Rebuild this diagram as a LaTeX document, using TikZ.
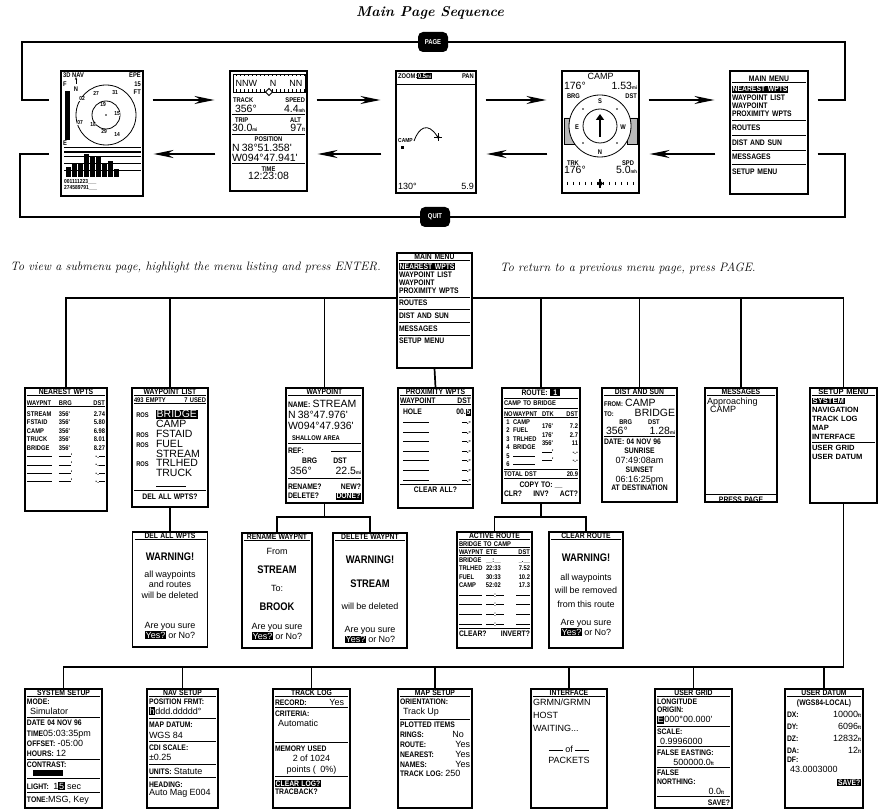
\documentclass[tikz,border=0pt]{standalone}
\usepackage{fontspec}
\usetikzlibrary{arrows.meta}
\newfontfamily\lcdfont{Liberation Sans}
\newfontfamily\lcdbold[FakeStretch=0.85]{Liberation Sans}
% screen fonts
\newcommand\tsmall{\lcdbold\bfseries\fontsize{8}{8.2}\selectfont}
\newcommand\txs{\lcdbold\bfseries\fontsize{6.8}{8.4}\selectfont}
\newcommand\twide{\lcdfont\bfseries\fontsize{7.6}{9}\selectfont}
\newcommand\tmini{\lcdbold\bfseries\fontsize{5.8}{6.4}\selectfont}
\newcommand\tmed{\lcdfont\mdseries\fontsize{9}{10.2}\selectfont}
\newcommand\tlarge{\lcdfont\mdseries\fontsize{10.5}{9.8}\selectfont}
\newcommand\tbig{\lcdbold\bfseries\fontsize{11}{12}\selectfont}
\newcommand\tunit[1]{{\lcdbold\bfseries\fontsize{5}{5}\selectfont#1}}
\newcommand\tinv[1]{{\setlength\fboxsep{0.7pt}\colorbox{black}{\color{white}#1}}}
\newcommand\tsep{\par\vspace{2pt}\hrule height 1pt\vspace{2pt}}
\newcommand\tuline{\par\vspace{0.6pt}\hrule height 0.7pt\vspace{1.8pt}}
\newcommand\tgap[1]{\par\vspace{#1}}
\newcommand\tcen[1]{\makebox[\linewidth]{#1}}
\newcommand\tcol[2]{\makebox[#1][l]{#2}}
\newcommand\tdash[1]{\rule[1.6pt]{#1}{0.8pt}}
\begin{document}
\begin{tikzpicture}[x=1pt,y=-1pt]
\tikzstyle{screen}=[draw, line width=1.1pt, fill=white, inner sep=0pt]
\tikzstyle{scrtext}=[anchor=north, inner sep=1.5pt, font=\txs]
\tikzstyle{lbl}=[inner sep=0pt, font=\txs]
\tikzstyle{btn}=[fill=black, text=white, rounded corners=5pt, minimum width=30pt, minimum height=20pt, inner sep=0pt, font=\lcdbold\bfseries\fontsize{7}{7}\selectfont]
\tikzstyle{loopline}=[draw, line width=1.7pt]
\tikzstyle{tree}=[draw, line width=1.7pt]
\tikzstyle{fwd}=[draw, line width=1.7pt, -{Stealth[length=20pt,width=8pt]}, shorten <=9pt, shorten >=15pt]
\tikzstyle{back}=[draw, line width=1.7pt, -{Stealth[length=20pt,width=8pt]}, shorten <=14pt, shorten >=10pt]
\tikzstyle{title}=[font=\bfseries\itshape\fontsize{14.2}{16}\selectfont]
\tikzstyle{note}=[font=\itshape\fontsize{12.2}{14}\selectfont, inner sep=0pt]

\useasboundingbox (0,0) rectangle (889,810);

% Title and notes
\node[title] (title) at (430,13) {Main Page Sequence};
\node[note, anchor=east] (noteview) at (381,268) {To view a submenu page, highlight the menu listing and press ENTER.};
\node[note, anchor=west] (notereturn) at (500,268) {To return to a previous menu page, press PAGE.};

% Helper levels
\coordinate (fy) at (0,100);
\coordinate (by) at (0,154);
\coordinate (tl) at (22,42);
\coordinate (tr) at (845,42);
\coordinate (bl) at (20,217);
\coordinate (br) at (845,217);
\coordinate (t1) at (0,298);
\coordinate (t2) at (0,517);
\coordinate (t4) at (0,667);

% Buttons
\node[btn] (pagebtn) at (433,42) {PAGE};
\node[btn] (quitbtn) at (435,217) {QUIT};

% Satellite page
\node[screen, minimum width=82pt, minimum height=125pt] (sat) at (102,133.5) {};
\node[lbl, anchor=north west] (satmode) at (63,73) {3D NAV};
\node[lbl, anchor=north east, align=right] (satepe) at (141,73) {EPE\\15\\FT};
\node[lbl, anchor=north west] (satf) at (63,82) {F};
\node[lbl, anchor=north west] (sate) at (63,141) {E};
\fill (64.5,91) rectangle (70,140);
\node[lbl] (satn) at (76,89) {N};
\draw[-{Stealth[length=3pt]}, line width=0.8pt] (76,84) -- (76,77);
\draw[line width=0.8pt] (106,115) circle[radius=30pt] (106,115) circle[radius=14pt];
\fill (106,115) circle[radius=0.8pt];
\foreach \px/\py/\sv in {82/99/02, 96/93/27, 115/93/31, 103/105/19, 117/114/15, 80/123/07, 93/125/18, 104/132/29, 117/135/14}
  \node[lbl, font=\tmini, fill=white, inner sep=0.3pt] at (\px,\py) {\sv};
\foreach \ly in {147,156,163,170} \draw[line width=0.8pt] (64,\ly) -- (141,\ly);
\draw[line width=1.3pt] (64,152) -- (141,152);
\foreach \i/\h in {0/167,1/163,2/163,3/154,4/157,5/157,6/163,7/161,8/169}
  \fill ({66+\i*6},\h) rectangle ({71+\i*6},177);
\node[lbl, font=\tmini, anchor=north west, align=left] (satprn) at (64,179) {001111223\_\_\_\\274589791\_\_\_};

% Position page
\node[screen, minimum width=77pt, minimum height=120pt] (pos) at (268.5,131) {};
\draw[line width=0.8pt] (233,74) rectangle (305,92);
\foreach \x in {236,240,...,304} \draw[line width=0.5pt] (\x,74) -- (\x,76.5) (\x,92) -- (\x,89.5);
\node[lbl, font=\tmed] (postape) at (269,83) {NNW\hspace{13pt}N\hspace{13pt}NN};
\draw[line width=0.8pt, fill=white] (269,88.5) -- (272.5,92) -- (269,95.5) -- (265.5,92) -- cycle;
\node[scrtext, text width=73pt] (postxt) at (268.5,96) {%
\txs\hspace*{1pt}TRACK\hfill SPEED\par
\tlarge\hspace*{3pt}356°\hfill 4.4\tunit{mh}\tsep
\txs\hspace*{3pt}TRIP\hfill ALT\hspace*{4pt}\par
\tlarge 30.0\tunit{mi}\hfill 97\tunit{ft}\tsep
\txs\tcen{POSITION}\par
\tlarge N\ 38°51.358'\par
W094°47.941'\tsep
\txs\tcen{TIME}\par
\tlarge\tcen{12:23:08}};

% Map page
\node[screen, minimum width=80pt, minimum height=122pt] (map) at (436,132) {};
\node[lbl, anchor=north west] (mapzoom) at (398,73) {ZOOM:\tinv{0.5\tunit{mi}}};
\node[lbl, anchor=north east] (mappan) at (474,74) {PAN};
\draw[line width=0.8pt] (396,84) -- (476,84);
\draw[line width=0.8pt] (414,141) .. controls (419,127) and (428,122) .. (437,136);
\fill (438,137) circle[radius=1.6pt];
\draw[line width=0.7pt] (434,137) -- (442,137) (438,133) -- (438,141);
\node[lbl, font=\tmini, anchor=west] (mapcamp) at (398,141) {CAMP};
\fill (401,146) rectangle (404,149);
\node[lbl, font=\tmed, anchor=south west] (maphdg) at (398,190) {130°};
\node[lbl, font=\tmed, anchor=south east] (mapdst) at (474,190) {5.9};

% Compass page
\node[screen, minimum width=77pt, minimum height=122pt] (comp) at (600.5,132) {};
\node[scrtext, text width=73pt] (comptop) at (600.5,72) {%
\tmed\tcen{CAMP}\par
\tlarge 176°\hfill 1.53\tunit{mi}\par
\txs\hspace*{3pt}BRG\hfill DST\hspace*{3pt}};
\draw[line width=0.8pt, fill=gray!55] (564,118) rectangle (574,144) (627,118) rectangle (637,144);
\draw[line width=0.8pt, fill=white] (600,126) circle[radius=31pt];
\draw[line width=0.8pt] (600,126) circle[radius=17pt];
\node[lbl] (comps) at (600,101) {S};
\node[lbl] (compn) at (600,152) {N};
\node[lbl] (compe) at (577,127) {E};
\node[lbl] (compw) at (623,127) {W};
\foreach \ang in {45,135,225,315} \fill ({600+24*cos(\ang)},{126+24*sin(\ang)}) circle[radius=0.9pt];
\draw[line width=2.6pt, -{Triangle[length=6pt,width=8pt]}] (600,137) -- (600,114);
\node[scrtext, text width=73pt] (compbot) at (600.5,159) {%
\txs\hspace*{3pt}TRK\hfill SPD\hspace*{3pt}\par
\tlarge 176°\hfill 5.0\tunit{mh}};
\foreach \x in {567,573,...,634} \draw[line width=0.6pt] (\x,182) -- (\x,185);
\draw[line width=1.2pt] (600,179) -- (600,188);
\fill (600,180.5) -- (603,183.5) -- (600,186.5) -- (597,183.5) -- cycle;

% Main menu (page sequence)
\node[screen, minimum width=78pt, minimum height=123pt] (mainmenu) at (769,132.5) {};
\node[scrtext, text width=74pt, font=\tsmall] (mainmenutxt) at (mainmenu.north) {%
\tgap{1pt}\tcen{MAIN MENU}\tuline
\tgap{1pt}\tinv{NEAREST WPTS}\par
WAYPOINT LIST\par
WAYPOINT\par
PROXIMITY WPTS\tgap{2pt}\tsep
\tgap{1.5pt}ROUTES\tgap{2.5pt}\tsep
\tgap{1.5pt}DIST AND SUN\tgap{2.5pt}\tsep
\tgap{1.5pt}MESSAGES\tgap{2.5pt}\tsep
\tgap{1.5pt}SETUP MENU};

% Main menu (submenu tree)
\node[screen, minimum width=75pt, minimum height=115pt] (submenu) at (434.5,310.5) {};
\node[scrtext, text width=71pt, font=\tsmall] (submenutxt) at (submenu.north) {%
\tcen{MAIN MENU}\tuline
\tinv{NEAREST WPTS}\par
WAYPOINT LIST\par
WAYPOINT\par
PROXIMITY WPTS\tgap{1pt}\tsep
\tgap{0.5pt}ROUTES\tgap{1.5pt}\tsep
\tgap{0.5pt}DIST AND SUN\tgap{1.5pt}\tsep
\tgap{0.5pt}MESSAGES\tgap{1.5pt}\tsep
\tgap{0.5pt}SETUP MENU};

% Submenu pages
\node[screen, minimum width=82pt, minimum height=123pt] (nearest) at (66,449.5) {};
\node[scrtext, text width=78pt] (nearesttxt) at (nearest.north) {%
\tsmall\tcen{NEAREST WPTS}\tuline
\tgap{3pt}\txs\tcol{32pt}{WAYPNT}\tcol{22pt}{BRG}\hfill DST\tuline
\tgap{3pt}\tcol{32pt}{STREAM}\tcol{22pt}{356'}\hfill 2.74\par
\tcol{32pt}{FSTAID}\tcol{22pt}{356'}\hfill 5.80\par
\tcol{32pt}{CAMP}\tcol{22pt}{356'}\hfill 6.98\par
\tcol{32pt}{TRUCK}\tcol{22pt}{356'}\hfill 8.01\par
\tcol{32pt}{BRIDGE}\tcol{22pt}{356'}\hfill 8.27\par
\tcol{32pt}{\tdash{25pt}}\tcol{22pt}{\tdash{12pt}'}\hfill -.\tdash{6pt}\par
\tcol{32pt}{\tdash{25pt}}\tcol{22pt}{\tdash{12pt}'}\hfill -.\tdash{6pt}\par
\tcol{32pt}{\tdash{25pt}}\tcol{22pt}{\tdash{12pt}'}\hfill -.\tdash{6pt}\par
\tcol{32pt}{\tdash{25pt}}\tcol{22pt}{\tdash{12pt}'}\hfill -.\tdash{6pt}};

\node[screen, minimum width=76pt, minimum height=119pt] (wptlist) at (170,447.5) {};
\node[scrtext, text width=72pt] (wptlisttxt) at (wptlist.north) {%
\tsmall\tcen{WAYPOINT LIST}\tuline
\txs 493 EMPTY\hfill 7 USED\tuline
\tgap{4pt}\tcol{22pt}{\ ROS}\tlarge\tinv{BRIDGE}\par
\tcol{22pt}{}CAMP\par
\tcol{22pt}{\txs\ ROS}FSTAID\par
\tcol{22pt}{\txs\ ROS}FUEL\par
\tcol{22pt}{}STREAM\par
\tcol{22pt}{\txs\ ROS}TRLHED\par
\tcol{22pt}{}TRUCK\par
\tgap{2pt}\tcol{22pt}{}\tdash{30pt}\tsep
\tsmall\tcen{DEL ALL WPTS?}};

\node[screen, minimum width=77pt, minimum height=115pt] (wpt) at (324.5,445.5) {};
\node[scrtext, text width=73pt] (wpttxt) at (wpt.north) {%
\tsmall\tcen{WAYPOINT}\tuline
\tgap{2pt}NAME: \tlarge STREAM\par
\tgap{1.5pt}N\ 38°47.976'\par
\tgap{1.5pt}W094°47.936'\par
\tgap{2pt}\txs\hspace*{4pt}SHALLOW AREA\tgap{1pt}\tsep
\tgap{1.5pt}\tsmall REF:\hfill\tdash{30pt}\par
\tgap{1.5pt}\tcen{BRG\hspace{16pt}DST}\par
\tgap{1.5pt}\tlarge\hspace*{2pt}356°\hfill 22.5\tunit{mi}\tgap{1.5pt}\tsep
\tgap{2.5pt}\tsmall RENAME?\hfill NEW?\par
\tgap{1.5pt}DELETE?\hfill\tinv{DONE?}};

\node[screen, minimum width=75pt, minimum height=120pt] (proximity) at (435.5,448) {};
\node[scrtext, text width=71pt] (proximitytxt) at (proximity.north) {%
\tsmall\tcen{PROXIMITY WPTS}\tuline
WAYPOINT\hfill DST\tuline
\tgap{2pt}\hspace*{3pt}HOLE\hfill 00.\tinv{5}\par
\tgap{1.4pt}\hspace*{3pt}\tdash{26pt}\hfill \tdash{5pt}.-\par
\tgap{1.4pt}\hspace*{3pt}\tdash{26pt}\hfill \tdash{5pt}.-\par
\tgap{1.4pt}\hspace*{3pt}\tdash{26pt}\hfill \tdash{5pt}.-\par
\tgap{1.4pt}\hspace*{3pt}\tdash{26pt}\hfill \tdash{5pt}.-\par
\tgap{1.4pt}\hspace*{3pt}\tdash{26pt}\hfill \tdash{5pt}.-\par
\tgap{1.4pt}\hspace*{3pt}\tdash{26pt}\hfill \tdash{5pt}.-\par
\tgap{1.4pt}\hspace*{3pt}\tdash{26pt}\hfill \tdash{5pt}.-\tsep
\tcen{CLEAR ALL?}};

\node[screen, minimum width=78pt, minimum height=115pt] (route) at (541,445.5) {};
\node[scrtext, text width=74pt] (routetxt) at (route.north) {%
\tsmall\tcen{ROUTE: \tinv{\,\,1\,\,}}\tsep
\txs CAMP TO BRIDGE\tsep
\tgap{1pt}\tcol{9pt}{NO}\tcol{29pt}{WAYPNT}\tcol{18pt}{DTK}\hfill DST\tuline
\tcol{9pt}{\ 1}\tcol{29pt}{CAMP}\par
\tcol{9pt}{\ 2}\tcol{29pt}{FUEL}\raisebox{4pt}[0pt][0pt]{\tcol{18pt}{176'}}\hfill\raisebox{4pt}[0pt][0pt]{7.2}\par
\tcol{9pt}{\ 3}\tcol{29pt}{TRLHED}\raisebox{4pt}[0pt][0pt]{\tcol{18pt}{176'}}\hfill\raisebox{4pt}[0pt][0pt]{2.7}\par
\tcol{9pt}{\ 4}\tcol{29pt}{BRIDGE}\raisebox{4pt}[0pt][0pt]{\tcol{18pt}{356'}}\hfill\raisebox{4pt}[0pt][0pt]{11}\par
\tcol{9pt}{\ 5}\tcol{29pt}{\tdash{22pt}}\raisebox{4pt}[0pt][0pt]{\tcol{18pt}{\tdash{10pt}'}}\hfill\raisebox{4pt}[0pt][0pt]{-.-}\par
\tcol{9pt}{\ 6}\tcol{29pt}{\tdash{22pt}}\raisebox{4pt}[0pt][0pt]{\tcol{18pt}{\tdash{10pt}'}}\hfill\raisebox{4pt}[0pt][0pt]{-.-}\tsep
TOTAL DST\hfill 20.9\tsep
\tgap{1pt}\tsmall\tcen{COPY TO: \_\_}\par
CLR?\hfill INV?\hfill ACT?};

\node[screen, minimum width=75pt, minimum height=114pt] (distsun) at (639.5,445) {};
\node[scrtext, text width=71pt] (distsuntxt) at (distsun.north) {%
\tsmall\tcen{DIST AND SUN}\tuline
\tgap{1pt}\txs FROM: \tlarge CAMP\par
\txs TO:\hfill\tlarge BRIDGE\par
\txs\tcen{BRG\hspace{16pt}DST}\par
\tlarge\hspace*{2pt}356°\hfill 1.28\tunit{mi}\tsep
\tsmall DATE: 04 NOV 96\par
\tgap{0.5pt}\tcen{SUNRISE}\par
\tmed\tcen{07:49:08am}\par
\tsmall\tcen{SUNSET}\par
\tmed\tcen{06:16:25pm}\par
\tsmall\tcen{AT DESTINATION}};

\node[screen, minimum width=72pt, minimum height=114pt] (messages) at (741,445) {};
\node[scrtext, text width=68pt] (messagestxt) at (messages.north) {%
\tsmall\tcen{MESSAGES}\tuline
\tmed Approaching\par
\hspace*{3pt}CAMP};
\node[scrtext, anchor=south, text width=72pt, inner sep=0pt] (messagesbot) at (messages.south) {%
\hrule height 1pt\vspace{1.8pt}\tsmall\tcen{PRESS PAGE}\par\vspace{1.5pt}};

\node[screen, minimum width=67pt, minimum height=115pt] (setupmenu) at (843.5,445.5) {};
\node[scrtext, text width=63pt, font=\twide] (setupmenutxt) at (setupmenu.north) {%
\tcen{SETUP MENU}\tuline
\tinv{SYSTEM}\par
NAVIGATION\par
TRACK LOG\par
MAP\par
INTERFACE\tsep
USER GRID\par
USER DATUM};

% Third level pages
\node[screen, minimum width=75pt, minimum height=115pt] (delall) at (170,589.5) {};
\node[scrtext, text width=71pt] (delalltxt) at (delall.north) {%
\tsmall\tcen{DEL ALL WPTS}\tuline
\tgap{11pt}\tbig\tcen{WARNING!}\par
\tgap{7pt}\tmed\tcen{all waypoints}\par
\tcen{and routes}\par
\tcen{will be deleted}\par
\tgap{20pt}\tcen{Are you sure}\par
\tcen{\tinv{Yes?} or No?}};

\node[screen, minimum width=70pt, minimum height=115pt] (rename) at (277,590.5) {};
\node[scrtext, text width=66pt] (renametxt) at (rename.north) {%
\tsmall\tcen{RENAME WAYPNT}\tuline
\tgap{6pt}\tmed\tcen{From}\par
\tgap{7pt}\tbig\tcen{STREAM}\par
\tgap{7pt}\tmed\tcen{To:}\par
\tgap{7pt}\tbig\tcen{BROOK}\par
\tgap{9pt}\tmed\tcen{Are you sure}\par
\tcen{\tinv{Yes?} or No?}};

\node[screen, minimum width=74pt, minimum height=115pt] (delete) at (370,590.5) {};
\node[scrtext, text width=70pt] (deletetxt) at (delete.north) {%
\tsmall\tcen{DELETE WAYPNT}\tuline
\tgap{13pt}\tbig\tcen{WARNING!}\par
\tgap{12pt}\tcen{STREAM}\par
\tgap{12pt}\tmed\tcen{will be deleted}\par
\tgap{13pt}\tcen{Are you sure}\par
\tcen{\tinv{Yes?} or No?}};

\node[screen, minimum width=75pt, minimum height=116pt] (active) at (494.5,590) {};
\node[scrtext, text width=71pt] (activetxt) at (active.north) {%
\tsmall\tcen{ACTIVE ROUTE}\tuline
\txs BRIDGE TO CAMP\tuline
\tcol{27pt}{WAYPNT}\tcol{24pt}{ETE}\hfill DST\tuline
\tcol{27pt}{BRIDGE}\tcol{24pt}{\_\_:\_\_}\hfill\_.\_\_\par
\tcol{27pt}{TRLHED}\tcol{24pt}{22:33}\hfill 7.52\par
\tcol{27pt}{FUEL}\tcol{24pt}{30:33}\hfill 10.2\par
\tcol{27pt}{CAMP}\tcol{24pt}{52:02}\hfill 17.3\par
\tgap{1.2pt}\tcol{27pt}{\tdash{23pt}}\tcol{24pt}{\tdash{8pt}:\tdash{8pt}}\hfill\tdash{14pt}\par
\tgap{1.2pt}\tcol{27pt}{\tdash{23pt}}\tcol{24pt}{\tdash{8pt}:\tdash{8pt}}\hfill\tdash{14pt}\par
\tgap{1.2pt}\tcol{27pt}{\tdash{23pt}}\tcol{24pt}{\tdash{8pt}:\tdash{8pt}}\hfill\tdash{14pt}\par
\tgap{1.2pt}\tcol{27pt}{\tdash{23pt}}\tcol{24pt}{\tdash{8pt}:\tdash{8pt}}\hfill\tdash{14pt}\tsep
\tsmall CLEAR?\hfill INVERT?};

\node[screen, minimum width=74pt, minimum height=116pt] (clear) at (586,590) {};
\node[scrtext, text width=70pt] (cleartxt) at (clear.north) {%
\tsmall\tcen{CLEAR ROUTE}\tuline
\tgap{12pt}\tbig\tcen{WARNING!}\par
\tgap{9pt}\tmed\tcen{all waypoints}\par
\tgap{3pt}\tcen{will be removed}\par
\tgap{3pt}\tcen{from this route}\par
\tgap{8pt}\tcen{Are you sure}\par
\tcen{\tinv{Yes?} or No?}};

% Setup pages
\node[screen, minimum width=77pt, minimum height=119pt] (sysset) at (63.5,748.5) {};
\node[scrtext, text width=73pt] (syssettxt) at (sysset.north) {%
\tsmall\tcen{SYSTEM SETUP}\tuline
MODE:\par
\tmed\hspace*{3pt}Simulator\tsep
\tsmall DATE 04 NOV 96\par
\tgap{0.5pt}TIME\tmed 05:03:35pm\par
\tsmall OFFSET: \tmed -05:00\par
\tsmall HOURS: \tmed 12\tsep
\tsmall CONTRAST:\par
\tgap{1pt}\hspace*{6pt}\rule{30pt}{6pt}\tsep
\tgap{1pt}LIGHT:\ \ \tmed 1\tinv{5} sec\tsep
\tgap{1pt}\tsmall TONE:\tmed MSG, Key};

\node[screen, minimum width=71pt, minimum height=119pt] (navset) at (182.5,748.5) {};
\node[scrtext, text width=67pt] (navsettxt) at (navset.north) {%
\tsmall\tcen{NAV SETUP}\tuline
POSITION FRMT:\par
\tmed\tinv{h}ddd.ddddd°\tgap{1pt}\tsep
\tgap{1pt}\tsmall MAP DATUM:\par
\tmed WGS 84\tgap{1pt}\tsep
\tgap{1pt}\tsmall CDI SCALE:\par
\tmed ±0.25\tgap{1pt}\tsep
\tgap{1pt}\tsmall UNITS: \tmed Statute\tgap{1pt}\tsep
\tgap{1pt}\tsmall HEADING:\par
\tmed Auto Mag E004};

\node[screen, minimum width=77pt, minimum height=119pt] (tracklog) at (311.5,748.5) {};
\node[scrtext, text width=73pt] (tracklogtxt) at (tracklog.north) {%
\tsmall\tcen{TRACK LOG}\tuline
RECORD:\hfill\tmed Yes\hspace*{4pt}\tsep
\tgap{1pt}\tsmall CRITERIA:\par
\tmed\hspace*{3pt}Automatic\tgap{13pt}\tsep
\tgap{1pt}\tsmall MEMORY USED\par
\tmed\tcen{2 of 1024}\par
\tcen{points (\ \ 0\%)}\tsep
\tgap{1pt}\tsmall\tinv{CLEAR LOG?}\par
TRACBACK?};

\node[screen, minimum width=74pt, minimum height=119pt] (mapset) at (435,748.5) {};
\node[scrtext, text width=70pt] (mapsettxt) at (mapset.north) {%
\tsmall\tcen{MAP SETUP}\tuline
ORIENTATION:\par
\tmed\hspace*{3pt}Track Up\tsep
\tsmall PLOTTED ITEMS\par
RINGS:\hfill\tmed No\hspace*{6pt}\par
\tsmall ROUTE:\hfill\tmed Yes\par
\tsmall NEAREST:\hfill\tmed Yes\par
\tsmall NAMES:\hfill\tmed Yes\par
\tsmall TRACK LOG: \tmed 250};

\node[screen, minimum width=76pt, minimum height=119pt] (interface) at (569,748.5) {};
\node[scrtext, text width=72pt] (interfacetxt) at (interface.north) {%
\tsmall\tcen{INTERFACE}\tuline
\tmed GRMN/GRMN\par
\tgap{3pt}HOST\par
\tgap{3pt}WAITING...\tgap{10pt}
\tcen{\tdash{14pt} of \tdash{14pt}}\par
\tgap{3pt}\tcen{PACKETS}};

\node[screen, minimum width=77pt, minimum height=119pt] (usergrid) at (693.5,748.5) {};
\node[scrtext, text width=73pt] (usergridtxt) at (usergrid.north) {%
\tsmall\tcen{USER GRID}\tuline
LONGITUDE\par
ORIGIN:\par
\tmed\tinv{E}000°00.000'\tsep
\tsmall SCALE:\par
\tmed\hspace*{3pt}0.9996000\tsep
\tsmall FALSE EASTING:\par
\tmed\tcen{500000.0\tunit{ft}}\tsep
\tsmall FALSE\par
NORTHING:\par
\tmed\hfill 0.0\tunit{ft}\hspace*{6pt}\tsep
\tsmall\hfill SAVE?};

\node[screen, minimum width=78pt, minimum height=119pt] (userdatum) at (824,748.5) {};
\node[scrtext, text width=74pt] (userdatumtxt) at (userdatum.north) {%
\tsmall\tcen{USER DATUM}\tuline
\tgap{1pt}\tcen{(WGS84-LOCAL)}\par
\tgap{2pt}DX:\hfill\tmed 10000\tunit{ft}\par
\tgap{1.5pt}\tsmall DY:\hfill\tmed 6096\tunit{ft}\par
\tgap{1.5pt}\tsmall DZ:\hfill\tmed 12832\tunit{ft}\par
\tgap{1.5pt}\tsmall DA:\hfill\tmed 12\tunit{ft}\par
\tgap{1.5pt}\tsmall DF:\par
\tmed\hspace*{3pt}43.0003000\tgap{4pt}
\tsmall\hfill\tinv{SAVE?}};

% Page sequence loops
\draw[loopline, shorten <=9pt] (mainmenu.east |- fy) -| (tr) -- (pagebtn.east);
\draw[loopline, shorten >=11pt] (pagebtn.west) -- (tl) |- (sat.west |- fy);
\draw[loopline, shorten <=9pt] (mainmenu.east |- by) -| (br) -- (quitbtn.east);
\draw[loopline, shorten >=11pt] (quitbtn.west) -- (bl) |- (sat.west |- by);

% Page arrows
\foreach \src/\dst in {sat/pos, pos/map, map/comp, comp/mainmenu}
  \draw[fwd] (\src.east |- fy) -- (\dst.west |- fy);
\foreach \src/\dst in {pos/sat, map/pos, comp/map, mainmenu/comp}
  \draw[back] (\src.west |- by) -- (\dst.east |- by);

% Submenu tree
\draw[tree] (nearest.north) |- (submenu.west |- t1);
\draw[tree] (submenu.east |- t1) -| (setupmenu.north);
\foreach \n in {wptlist, wpt, route, distsun, messages}
  \draw[tree] (\n.north |- t1) -- (\n.north);
\draw[tree] (submenu.south) -- (proximity.north);
\draw[tree] (wptlist.south) -- (delall.north);
\draw[tree] (wpt.south) -- (wpt.south |- t2);
\draw[tree] (rename.north) |- (t2 -| delete.north) -- (delete.north);
\draw[tree] (route.south) -- (route.south |- t2);
\draw[tree] (active.north) |- (t2 -| clear.north) -- (clear.north);
\draw[tree] (setupmenu.south) |- (t4 -| sysset.north) -- (sysset.north);
\foreach \n in {navset, tracklog, mapset, interface, usergrid, userdatum}
  \draw[tree] (\n.north |- t4) -- (\n.north);
\end{tikzpicture}
\end{document}
